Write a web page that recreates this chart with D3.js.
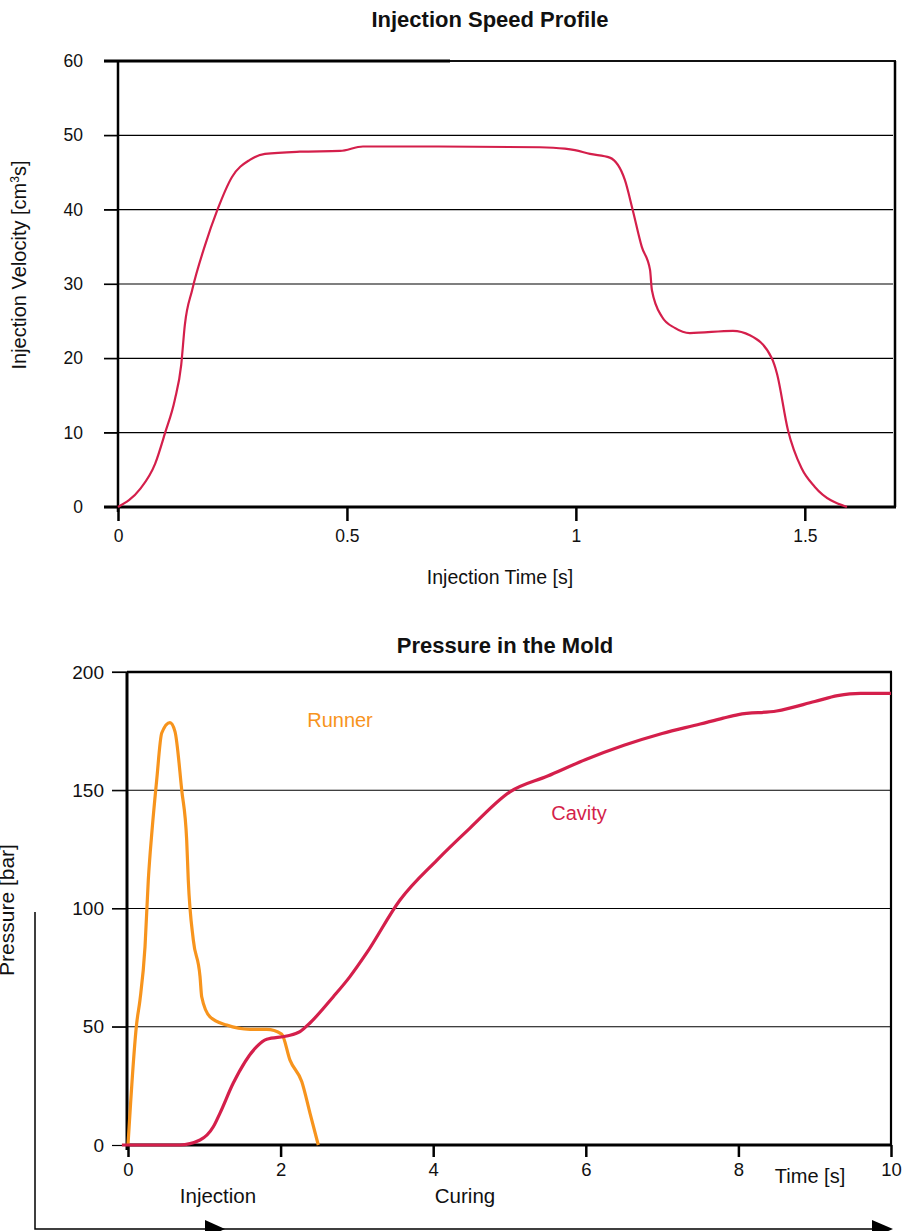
<!DOCTYPE html>
<html><head><meta charset="utf-8">
<script src="https://cdn.jsdelivr.net/npm/d3@7"></script>
<style>
body{margin:0;background:#fff}
svg{display:block}
text{font-family:"Liberation Sans",Arial,Helvetica,sans-serif;fill:#111}
</style>
</head><body>
<svg id="c" width="909" height="1231"></svg>
<script>
// ---------- Data: Injection Speed Profile ----------
const speedTime = [0, 0.048, 0.081, 0.103, 0.124, 0.138, 0.146, 0.162, 0.190, 0.216, 0.249, 0.288, 0.321, 0.397, 0.485, 0.535, 0.70, 0.921, 0.976, 0.998, 1.031, 1.074, 1.107, 1.124, 1.144, 1.162, 1.166, 1.188, 1.216, 1.249, 1.343, 1.380, 1.428, 1.439, 1.463, 1.493, 1.522, 1.592];
const speedVelocity = [0, 2.4, 5.8, 10, 14.4, 19.1, 24.5, 29.2, 35.2, 39.8, 44.4, 46.7, 47.5, 47.8, 47.9, 48.5, 48.5, 48.4, 48.2, 48.0, 47.5, 47.0, 44, 40, 35, 31.9, 29.2, 25.6, 24.1, 23.4, 23.7, 23.1, 20.0, 18.0, 10.4, 5.2, 2.7, 0];
const speedXTicks = [0, 0.5, 1, 1.5];
const speedXLabels = ["0", "0.5", "1", "1.5"];
const speedYTicks = [0, 10, 20, 30, 40, 50, 60];

// ---------- Data: Pressure in the Mold ----------
const runnerTime = [0, 0.114, 0.157, 0.223, 0.266, 0.315, 0.376, 0.442, 0.550, 0.616, 0.704, 0.769, 0.790, 0.856, 0.944, 0.966, 1.075, 1.294, 1.599, 1.818, 2.014, 2.123, 2.277, 2.385, 2.494];
const runnerPressure = [0, 51.5, 61.3, 83.8, 112, 133, 154.3, 174.2, 178.6, 174.8, 150.1, 129, 112, 86.7, 71.2, 62.7, 54.2, 50.7, 48.9, 48.9, 46.9, 35.9, 26.8, 13.5, 0];
const cavityTime = [-0.08, 0.68, 0.944, 1.118, 1.206, 1.380, 1.687, 1.818, 2.080, 2.254, 2.385, 2.691, 2.909, 3.128, 3.565, 4.05, 4.482, 5.006, 5.5, 6.0, 6.5, 7.0, 7.5, 7.8, 8.0, 8.5, 9.0, 9.3, 9.6, 10];
const cavityPressure = [0, 0, 2.1, 7.7, 13.5, 26.2, 41.6, 44.7, 46.1, 47.9, 51.6, 62.7, 71.2, 81.2, 103.6, 120.5, 134, 149.3, 156, 163, 169, 174, 178, 180.5, 182, 183.5, 187.5, 190, 191, 191];
const pressureXTicks = [0, 2, 4, 6, 8, 10];
const pressureYTicks = [0, 50, 100, 150, 200];

const RED = "#d41f4b", ORANGE = "#f7941d";
const FONT = "Liberation Sans, Arial, sans-serif";
const svg = d3.select("#c");
svg.append("rect").attr("width", 909).attr("height", 1231).attr("fill", "#fff");

// ================= Chart 1 =================
{
  const x = d3.scaleLinear().domain([0, 1.697]).range([118, 895]);
  const y = d3.scaleLinear().domain([0, 60]).range([507, 61]);
  const g = svg.append("g");

  g.selectAll("line.grid").data(speedYTicks.filter(d => d > 0 && d < 60)).join("line")
    .attr("x1", 104).attr("x2", 893).attr("y1", d => y(d)).attr("y2", d => y(d))
    .attr("stroke", "#000").attr("stroke-width", 1.2);

  g.append("line").attr("x1", 104).attr("x2", 450).attr("y1", y(60)).attr("y2", y(60)).attr("stroke", "#000").attr("stroke-width", 3);
  g.append("line").attr("x1", 450).attr("x2", 896).attr("y1", y(60)).attr("y2", y(60)).attr("stroke", "#111").attr("stroke-width", 2);
  g.append("line").attr("x1", 895).attr("x2", 895).attr("y1", y(60)).attr("y2", y(0)).attr("stroke", "#000").attr("stroke-width", 2.5);

  const ya = d3.axisLeft(y).tickValues(speedYTicks).tickSize(14).tickPadding(21).tickFormat(d3.format("d"));
  const yg = g.append("g").attr("transform", "translate(118,0)").call(ya);
  yg.select(".domain").remove();
  yg.selectAll(".tick line").attr("stroke", "#000").attr("stroke-width", 1.2);
  yg.selectAll("text").attr("font-size", 17.5).attr("fill", "#111").style("font-family", FONT);

  const xa = d3.axisBottom(x).tickValues(speedXTicks).tickSize(14).tickPadding(9).tickFormat((d, i) => speedXLabels[i]);
  const xg = g.append("g").attr("transform", "translate(0,507)").call(xa);
  xg.select(".domain").remove();
  xg.selectAll(".tick line").attr("stroke", "#000").attr("stroke-width", 2.5);
  xg.selectAll("text").attr("font-size", 17.5).attr("fill", "#111").style("font-family", FONT);

  g.append("line").attr("x1", 104).attr("x2", 896).attr("y1", y(0)).attr("y2", y(0)).attr("stroke", "#000").attr("stroke-width", 3);
  g.append("line").attr("x1", 118).attr("x2", 118).attr("y1", y(60) - 1).attr("y2", 512).attr("stroke", "#000").attr("stroke-width", 2.5);

  const pts = speedTime.map((t, i) => [t, speedVelocity[i]]);
  g.append("path").datum(pts)
    .attr("d", d3.line().x(d => x(d[0])).y(d => y(d[1])).curve(d3.curveMonotoneX))
    .attr("fill", "none").attr("stroke", RED).attr("stroke-width", 2.2).attr("stroke-linejoin", "round");

  g.append("text").attr("x", 490).attr("y", 27).attr("text-anchor", "middle")
    .attr("font-size", 22).attr("font-weight", "bold").text("Injection Speed Profile");
  g.append("text").attr("x", 500).attr("y", 584).attr("text-anchor", "middle")
    .attr("font-size", 19.5).text("Injection Time [s]");
  const yt = g.append("text").attr("transform", "translate(26,265) rotate(-90)").attr("text-anchor", "middle").attr("font-size", 20);
  yt.append("tspan").text("Injection Velocity [cm");
  yt.append("tspan").attr("font-size", 12).attr("dy", -7).text("3");
  yt.append("tspan").attr("dy", 7).text("s]");
}

// ================= Chart 2 =================
{
  const x = d3.scaleLinear().domain([0, 10]).range([128, 891]);
  const y = d3.scaleLinear().domain([0, 200]).range([1145, 672]);
  const g = svg.append("g");

  g.selectAll("line.grid").data(pressureYTicks.filter(d => d > 0 && d < 200)).join("line")
    .attr("x1", 112).attr("x2", 891).attr("y1", d => y(d)).attr("y2", d => y(d))
    .attr("stroke", "#000").attr("stroke-width", 1.2);

  g.append("line").attr("x1", 112).attr("x2", 127).attr("y1", y(200)).attr("y2", y(200)).attr("stroke", "#000").attr("stroke-width", 1.2);
  g.append("line").attr("x1", 127).attr("x2", 892).attr("y1", y(200)).attr("y2", y(200)).attr("stroke", "#000").attr("stroke-width", 2.5);
  g.append("line").attr("x1", 891).attr("x2", 891).attr("y1", y(200)).attr("y2", y(0)).attr("stroke", "#000").attr("stroke-width", 2.2);

  const ya = d3.axisLeft(y).tickValues(pressureYTicks).tickSize(15).tickPadding(8).tickFormat(d3.format("d"));
  const yg = g.append("g").attr("transform", "translate(127,0)").call(ya);
  yg.select(".domain").remove();
  yg.selectAll(".tick line").attr("stroke", "#000").attr("stroke-width", 1.2);
  yg.selectAll("text").attr("font-size", 19).attr("fill", "#111").style("font-family", FONT);

  const xa = d3.axisBottom(x).tickValues(pressureXTicks).tickSize(12).tickPadding(6).tickFormat(d3.format("d"));
  const xg = g.append("g").attr("transform", "translate(0,1145)").call(xa);
  xg.select(".domain").remove();
  xg.selectAll(".tick line").attr("stroke", "#000").attr("stroke-width", 2.5);
  xg.selectAll("text").attr("font-size", 18.5).attr("fill", "#111").style("font-family", FONT);

  g.append("line").attr("x1", 127).attr("x2", 892).attr("y1", y(0)).attr("y2", y(0)).attr("stroke", "#000").attr("stroke-width", 3);
  g.append("line").attr("x1", 127).attr("x2", 127).attr("y1", y(200)).attr("y2", 1150).attr("stroke", "#000").attr("stroke-width", 3);

  const line = d3.line().x(d => x(d[0])).y(d => y(d[1])).curve(d3.curveMonotoneX);
  g.append("path").datum(runnerTime.map((t, i) => [t, runnerPressure[i]]))
    .attr("d", line).attr("fill", "none").attr("stroke", ORANGE).attr("stroke-width", 3.2).attr("stroke-linejoin", "round");
  g.append("path").datum(cavityTime.map((t, i) => [t, cavityPressure[i]]))
    .attr("d", line).attr("fill", "none").attr("stroke", RED).attr("stroke-width", 3.2).attr("stroke-linejoin", "round");

  g.append("text").attr("x", 505).attr("y", 653).attr("text-anchor", "middle")
    .attr("font-size", 22).attr("font-weight", "bold").text("Pressure in the Mold");
  g.append("text").attr("x", 340).attr("y", 727).attr("text-anchor", "middle").attr("font-size", 20).style("fill", ORANGE).text("Runner");
  g.append("text").attr("x", 579).attr("y", 820).attr("text-anchor", "middle").attr("font-size", 20).style("fill", RED).text("Cavity");
  g.append("text").attr("x", 810).attr("y", 1183).attr("text-anchor", "middle").attr("font-size", 20).text("Time [s]");
  g.append("text").attr("x", 218).attr("y", 1203).attr("text-anchor", "middle").attr("font-size", 20.5).text("Injection");
  g.append("text").attr("x", 465).attr("y", 1203).attr("text-anchor", "middle").attr("font-size", 20.5).text("Curing");
  g.append("text").attr("transform", "translate(14,910) rotate(-90)").attr("text-anchor", "middle").attr("font-size", 21).text("Pressure [bar]");

  g.append("path").attr("d", "M35,912 V1229 H885").attr("fill", "none").attr("stroke", "#000").attr("stroke-width", 1.5);
  [[205, 225], [872, 893]].forEach(([a, b]) => {
    g.append("path").attr("d", `M${a},1220 L${b},1229 L${a},1238 Z`).attr("fill", "#000");
  });
}
</script>
</body></html>
